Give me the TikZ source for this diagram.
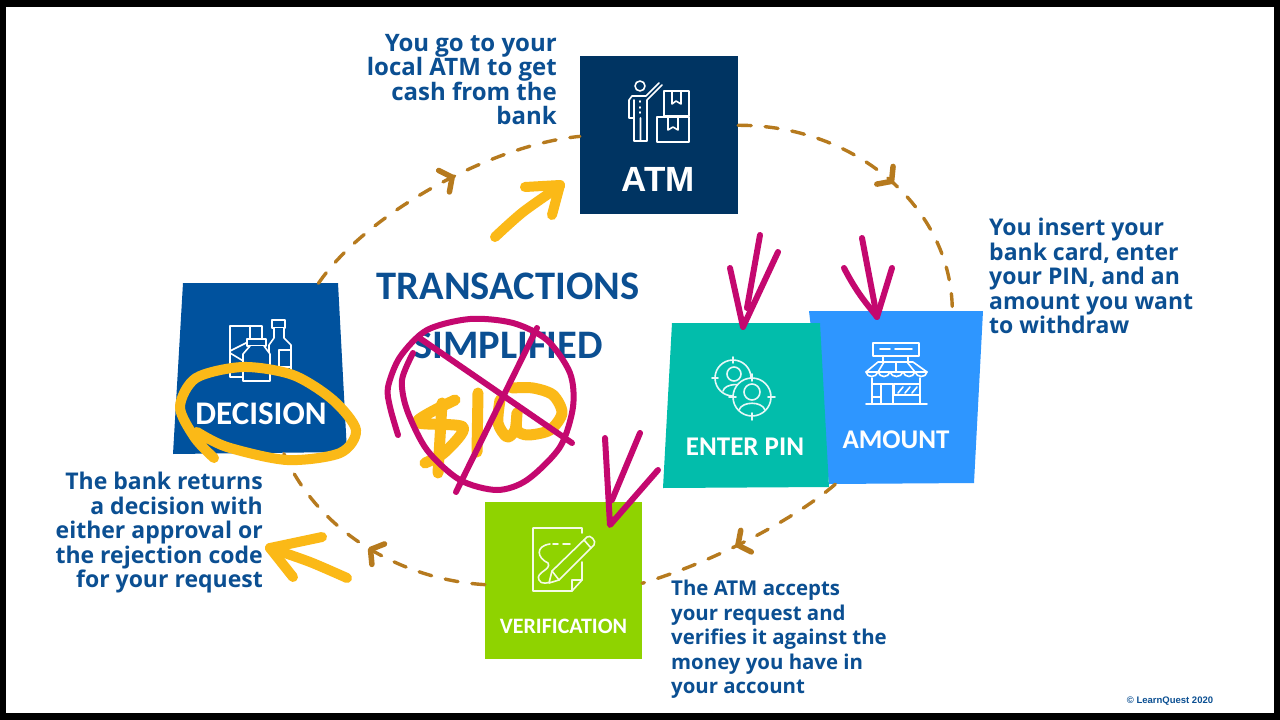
\documentclass[tikz,border=0pt]{standalone}
\usepackage{fontspec}
\setmainfont{Open Sans}
\newfontfamily\carlito{Carlito}
\newfontfamily\arialish{Liberation Sans}
\usetikzlibrary{positioning,calc,arrows.meta,decorations.markings}
\definecolor{atmblue}{HTML}{003462}
\definecolor{decblue}{HTML}{00529E}
\definecolor{pinteal}{HTML}{02BDAB}
\definecolor{amtblue}{HTML}{2E96FF}
\definecolor{vergreen}{HTML}{8FD300}
\definecolor{ringbrown}{HTML}{B67A1E}
\definecolor{textblue}{HTML}{0B4F92}
\definecolor{penpink}{HTML}{C4086F}
\definecolor{penyellow}{HTML}{FBB917}
\tikzset{
    tile/.style={minimum width=#1,minimum height=#1,inner sep=0pt},
    tilelabel/.style={text=white,font=\carlito\bfseries\fontsize{27}{27}\selectfont,inner sep=0pt},
    note/.style={text=textblue,font=\bfseries\fontsize{#1}{24.5}\selectfont,inner sep=0pt},
    flowline/.style={draw=ringbrown,line width=3.4pt,line cap=round,dash pattern=on 13pt off 14pt},
    flowtip/.style={postaction={decorate,decoration={markings,mark=at position #1 with {\arrow{Straight Barb[round,line width=5.5pt,length=9pt,width=24pt]}}}}},
    icon/.style={draw=white,line width=1.6pt,line join=round,line cap=round},
    pen/.style={draw=penpink,line width=6pt,line cap=round,line join=round},
    marker/.style={draw=penyellow,line width=10pt,line cap=round,line join=round},
}
\begin{document}
\begin{tikzpicture}[x=1pt,y=-1pt]
    \useasboundingbox (0,0) rectangle (1280,720);
    \fill[black] (0,0) rectangle (1280,720);
    \fill[white] (6,7) rectangle (1274,713);

    % Tiles
    \node[tile=158pt,fill=atmblue] (atm) at (659,135) {};
    \node[tile=157pt,fill=vergreen] (verification) at (563.5,580.5) {};
    \node[tile=173pt] (amount) at (896,397.5) {};
    \node[tile=170pt] (decision) at (261,368.5) {};
    \fill[amtblue] (809,311) -- (983,311) -- (974,483) -- (829,484) -- cycle;
    \fill[pinteal] (672,323) -- (820,323) -- (829,487) -- (663,488) -- cycle;
    \fill[decblue] (183,283) -- (338,283) -- (347,452) -- (173,454) -- cycle;

    % Tile texts
    \node[tilelabel,font=\arialish\bfseries\fontsize{35}{35}\selectfont] (atmtext) at (658,179) {ATM};
    \node[tilelabel,font=\carlito\bfseries\fontsize{33}{33}\selectfont] (decisiontext) at (261,414) {DECISION};
    \node[tilelabel] (pintext) at (745,447) {ENTER PIN};
    \node[tilelabel] (amounttext) at (896,440) {AMOUNT};
    \node[tilelabel,font=\carlito\bfseries\fontsize{22}{22}\selectfont] (vertext) at (563.5,626) {VERIFICATION};

    % Title
    \node[text=textblue,font=\carlito\bfseries\fontsize{40.5}{40.5}\selectfont,inner sep=0pt] (title) at (508,286) {TRANSACTIONS};
    \node[text=textblue,font=\carlito\bfseries\fontsize{40.5}{40.5}\selectfont,inner sep=0pt] (subtitle) at (508,345) {SIMPLIFIED};

    % Notes
    \node[note=24,align=right,anchor=north east] (noteatm) at (557,34) {You go to your\\local ATM to get\\cash from the\\bank};
    \node[note=23,align=left,anchor=north west] (noteamount) at (989,218) {You insert your\\bank card, enter\\your PIN, and an\\amount you want\\to withdraw};
    \node[note=20.4,align=left,anchor=north west] (notever) at (671,580) {The ATM accepts\\your request and\\verifies it against the\\money you have in\\your account};
    \node[note=23,align=right,anchor=north east] (notedec) at (263,472) {The bank returns\\a decision with\\either approval or\\the rejection code\\for your request};
    \node[text=textblue,font=\arialish\bfseries\fontsize{9.5}{9.5}\selectfont,inner sep=0pt] (copyright) at (1170,701) {© LearnQuest 2020};

    % Ring
    \draw[flowline,flowtip=.54] (atm.7) .. controls (856,125) and (952,208) .. (amount.57);
    \draw[flowline,flowtip=.54] (amount.235) .. controls (800,515) and (720,560) .. (verification.-2);
    \draw[flowline,flowtip=.49] (verification.183) .. controls (405,580) and (320,535) .. (decision.285);
    \draw[flowline,flowtip=.57] (decision.56) .. controls (365,215) and (490,145) .. (atm.181);

    % ATM icon
    \begin{scope}[icon]
        \draw (640,86) circle (5);
        \draw (662,85) -- (647,100) -- (647,141) -- (640.5,141) -- (640.5,118) -- (640.5,141) -- (634,141) -- (634,118) -- (629,118) -- (629,100) -- (632,96) -- (646,96) -- (659,83);
        \draw (634,100) -- (634,118);
        \draw (640,101) -- (640,102) (640,107) -- (640,108) (640,112) -- (640,113);
        \draw (664,91) rectangle (689,116);
        \draw (657,117) rectangle (689,142);
        \draw (672,91) -- (672,104) -- (676,101) -- (681,104) -- (681,91);
        \draw (668,117) -- (668,130) -- (673,127) -- (678,130) -- (678,117);
    \end{scope}

    % Decision icon
    \begin{scope}[icon]
        \draw (230,326) rectangle (262,377);
        \draw (250,326) -- (250,341) -- (230,351);
        \draw (230,353) -- (245,362);
        \draw (272,320) rectangle (285,328);
        \draw[fill=decblue] (274,328) -- (274,338) -- (269,345) -- (269,370) -- (291,370) -- (291,345) -- (284,338) -- (284,328);
        \draw (279,350) rectangle (291,367);
        \draw[fill=decblue] (247,339) rectangle (266,346);
        \draw[fill=decblue] (250,346) -- (243,354) -- (243,381) -- (270,381) -- (270,354) -- (264,346);
    \end{scope}

    % Pin icon
    \begin{scope}[icon,draw=white!90!pinteal]
        \draw (733,378) circle (18);
        \draw (733,357) -- (733,363) (712,378) -- (718,378);
        \draw (734,374) circle (7);
        \draw (723,391) .. controls (725,383) and (743,383) .. (746,388);
        \draw[fill=pinteal] (752,397) circle (19);
        \draw (752,374) -- (752,381) (752,413) -- (752,420) (729,397) -- (736,397) (768,397) -- (775,397);
        \draw (752,392) circle (8);
        \draw (739,410) .. controls (742,401) and (762,401) .. (765,410);
    \end{scope}

    % Amount icon
    \begin{scope}[icon]
        \draw (873,343) rectangle (919,356);
        \draw (880,349) -- (890,349) (895,349) -- (912,349);
        \draw (883,356) -- (883,362) (908,356) -- (908,362);
        \draw (878,362) -- (913,362) -- (927,372) .. controls (926,378) and (917,378) .. (915,372) .. controls (913,378) and (905,378) .. (903,372) .. controls (901,378) and (892,378) .. (890,372) .. controls (888,378) and (880,378) .. (878,372) .. controls (876,378) and (867,378) .. (866,372) -- cycle;
        \draw (866,372) -- (927,372) (884,362) -- (878,372) (896,362) -- (896,372) (907,362) -- (915,372);
        \draw (872,378) -- (872,404) (920,378) -- (920,404);
        \draw (866,404) -- (927,404);
        \draw (881,384) rectangle (893,404);
        \draw (872,384) -- (881,384) (872,397) -- (881,397);
        \draw (894,384) rectangle (920,395);
        \draw (898,393) -- (903,387) (905,393) -- (910,387) (912,393) -- (917,387);
    \end{scope}

    % Verification icon
    \begin{scope}[icon,draw=white!90!vergreen]
        \draw (582,533) -- (582,528) -- (533,528) -- (533,591) -- (572,591) -- (582,580) -- (582,562);
        \draw (572,591) -- (572,580) -- (582,580);
        \draw (553,544) -- (558,544) (563,544) -- (570,544);
        \draw (550,544) .. controls (535,546) and (537,558) .. (548,563) .. controls (552,570) and (535,572) .. (539,580) .. controls (541,585) and (548,583) .. (555,581);
        \draw[fill=vergreen] (549,583) -- (552,571) -- (587,537) .. controls (590,534) and (597,541) .. (594,545) -- (559,580) -- cycle;
        \draw (552,571) -- (559,580) (584,540) -- (591,548);
    \end{scope}

    % Yellow marks
    \begin{scope}[marker]
        \draw plot[smooth] coordinates {(495,237) (523,212) (560,186)};
        \draw (525,187) -- (560,185) -- (552,215);
        \draw plot[smooth] coordinates {(347,578) (310,562) (270,548)};
        \draw (322,537) -- (270,548) -- (293,577);
        \draw plot[smooth] coordinates {(214,458) (195,438) (180,407) (196,378) (243,367) (293,375) (333,400) (356,430) (340,453) (287,460) (227,447) (197,432)};
    \end{scope}
    \begin{scope}[marker,line width=11pt]
        \draw plot[smooth] coordinates {(455,400) (417,422) (463,427) (445,452) (425,463)};
        \draw (442,403) -- (438,473);
        \draw (478,393) -- (477,452);
        \draw plot[smooth] coordinates {(500,400) (498,423) (507,437) (515,430) (517,413) (517,430) (528,435) (550,430) (562,413) (553,395) (533,388) (512,388)};
    \end{scope}

    % Pink marks
    \begin{scope}[pen]
        \draw plot[smooth] coordinates {(398,435) (390,407) (388,387) (400,357) (427,330) (470,319) (513,323) (547,340) (570,373) (573,407) (560,447) (527,480) (497,490) (460,480) (427,450) (407,410) (402,380) (413,353)};
        \draw (418,337) -- (572,443);
        \draw (537,328) -- (456,492);
        \draw (760,235) -- (747,308);
        \draw (778,252) -- (743,327) -- (730,268);
        \draw (862,238) -- (877,317);
        \draw (844,268) .. controls (858,295) and (868,305) .. (877,317) -- (892,268);
        \draw (605,438) -- (610,525) -- (658,470);
        \draw (640,433) -- (612,500);
    \end{scope}
\end{tikzpicture}
\end{document}
